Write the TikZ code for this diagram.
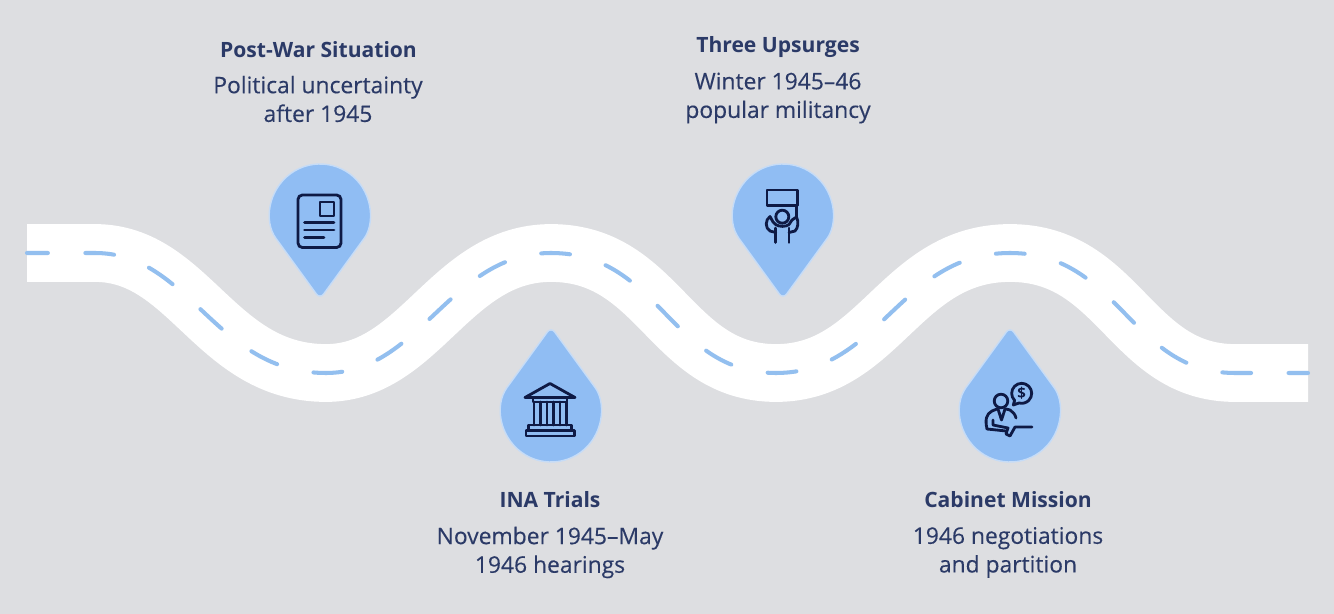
\documentclass[tikz,border=0pt]{standalone}
\usepackage{fontspec}
\setmainfont{Open Sans}
\newfontfamily\notefont[FakeBold=0.25]{Open Sans}
\usepackage{xcolor}
\usetikzlibrary{positioning}
\definecolor{fondo}{HTML}{DDDEE1}
\definecolor{pinblue}{HTML}{90BDF3}
\definecolor{pinedge}{HTML}{C6DCF7}
\definecolor{lane}{HTML}{93BFEF}
\definecolor{navy}{HTML}{2B3A67}
\definecolor{ink}{HTML}{0E1A45}
\tikzset{
  road/.style={draw=white,line width=58*0.567pt},
  lanemark/.style={draw=lane,line width=2.3pt,line cap=round,dash pattern=on 16.4pt off 21.3pt},
  pinbody/.style={fill=pinblue,draw=pinedge,line width=0.8pt,line join=round},
  icon/.style={draw=ink,line width=1.6pt,line cap=round,line join=round},
  heading/.style={text=navy,font=\bfseries\fontsize{12}{15}\selectfont,inner sep=0pt},
  detail/.style={text=navy,font=\notefont\fontsize{13}{16.3}\selectfont,align=center,inner sep=0pt},
  pinshape/.pic={
    \draw[pinbody,rounded corners=3.5pt] (-40.4,29.4) arc[start angle=144,end angle=396,radius=50] -- (0,85) -- cycle;
  }
}
\newcommand{\roadline}{(27,253) -- (95,253) .. controls (190,253) and (215,373) .. (326,373)
 .. controls (420,373) and (450,253) .. (551,253) .. controls (660,253) and (670,373) .. (776,373)
 .. controls (880,373) and (900,253) .. (1010,253) .. controls (1120,253) and (1130,373) .. (1235,373) -- (1308,373)}
\begin{document}
\begin{tikzpicture}[x=0.02cm,y=0.02cm,yscale=-1]
\fill[fondo] (0,0) rectangle (1334,614);
\useasboundingbox (0,0) rectangle (1334,614);
% road
\draw[road] \roadline;
\draw[lanemark,dash phase=4.5pt] \roadline;
% pins
\pic[transform shape] at (320,214) {pinshape};
\pic[transform shape] at (783,214) {pinshape};
\pic[transform shape,yscale=-1] at (551,412) {pinshape};
\pic[transform shape,yscale=-1] at (1010,412) {pinshape};
% document
\draw[icon,rounded corners=2.5pt] (298,195) rectangle (341,247.5);
\draw[icon] (320,202) rectangle (334,216);
\draw[icon] (304.5,222.5) -- (334,222.5) (304.5,230) -- (334,230) (304.5,237.5) -- (324,237.5);
% court
\draw[icon] (525,397.5) -- (550,383.5) -- (575,397.5) -- cycle;
\draw[icon] (533,397.5) rectangle (567,402);
\foreach \cx in {534,540.5,547,553.5,560,566.5} \draw[icon] (\cx,402) -- (\cx,425);
\draw[icon] (528.5,425) rectangle (571.5,430.5);
\draw[icon] (526,430.5) rectangle (574.5,436);
% protester
\draw[icon] (767,190) rectangle (797.5,205.5);
\draw[icon] (782.3,216.7) circle[radius=6.5];
\draw[icon] (775.7,228) -- (775.7,242.5) (789,228) -- (789,242.5);
\draw[icon] (770,216.5) .. controls (765,220) and (765,228) .. (770,231) -- (775.7,232.5);
\draw[icon] (796.5,205.5) -- (796.5,217) .. controls (799,222) and (798,228) .. (795,231) -- (789,232.5);
\draw[icon] (770,216.5) -- (773,222) -- (775.7,224.5) .. controls (779,227) and (786,227) .. (789,224.5) -- (792,220) -- (796.5,217);
% official
\draw[icon] (1001,401) circle[radius=6.8];
\draw[icon] (1013.3,405) -- (1014.6,400.4) arc[start angle=135,end angle=465,radius=10] -- cycle;
\node[text=ink,font=\bfseries\fontsize{8.5}{8.5}\selectfont,inner sep=0pt] (dollar) at (1021.7,393.3) {\$};
\draw[icon] (987,429) .. controls (985,420) and (986,414) .. (992,411) -- (997,409) (1006,409) -- (1010,410) .. controls (1013,412) and (1015,414) .. (1016,418);
\draw[icon] (987,429) -- (1006,431);
\draw[icon] (998,409) -- (1001.5,420) -- (1005,409);
\draw[icon] (993,420) -- (993,425) -- (1008,428) -- (1006,434) -- (1010,436) -- (1015,427) -- (1032,427);
% labels
\node[heading] (postwar) at (318.5,50) {Post-War Situation};
\node[detail] (postwarnote) at (318,99) {Political uncertainty\\after 1945};
\node[heading] (upsurges) at (778,47) {Three Upsurges};
\node[detail] (upsurgesnote) at (778,98) {Winter 1945–46\\popular militancy};
\node[heading] (trials) at (550,500) {INA Trials};
\node[detail] (trialsnote) at (550,552.5) {November 1945–May\\1946 hearings};
\node[heading] (mission) at (1008,500) {Cabinet Mission};
\node[detail] (missionnote) at (1008,552.5) {1946 negotiations\\and partition};
\end{tikzpicture}
\end{document}
